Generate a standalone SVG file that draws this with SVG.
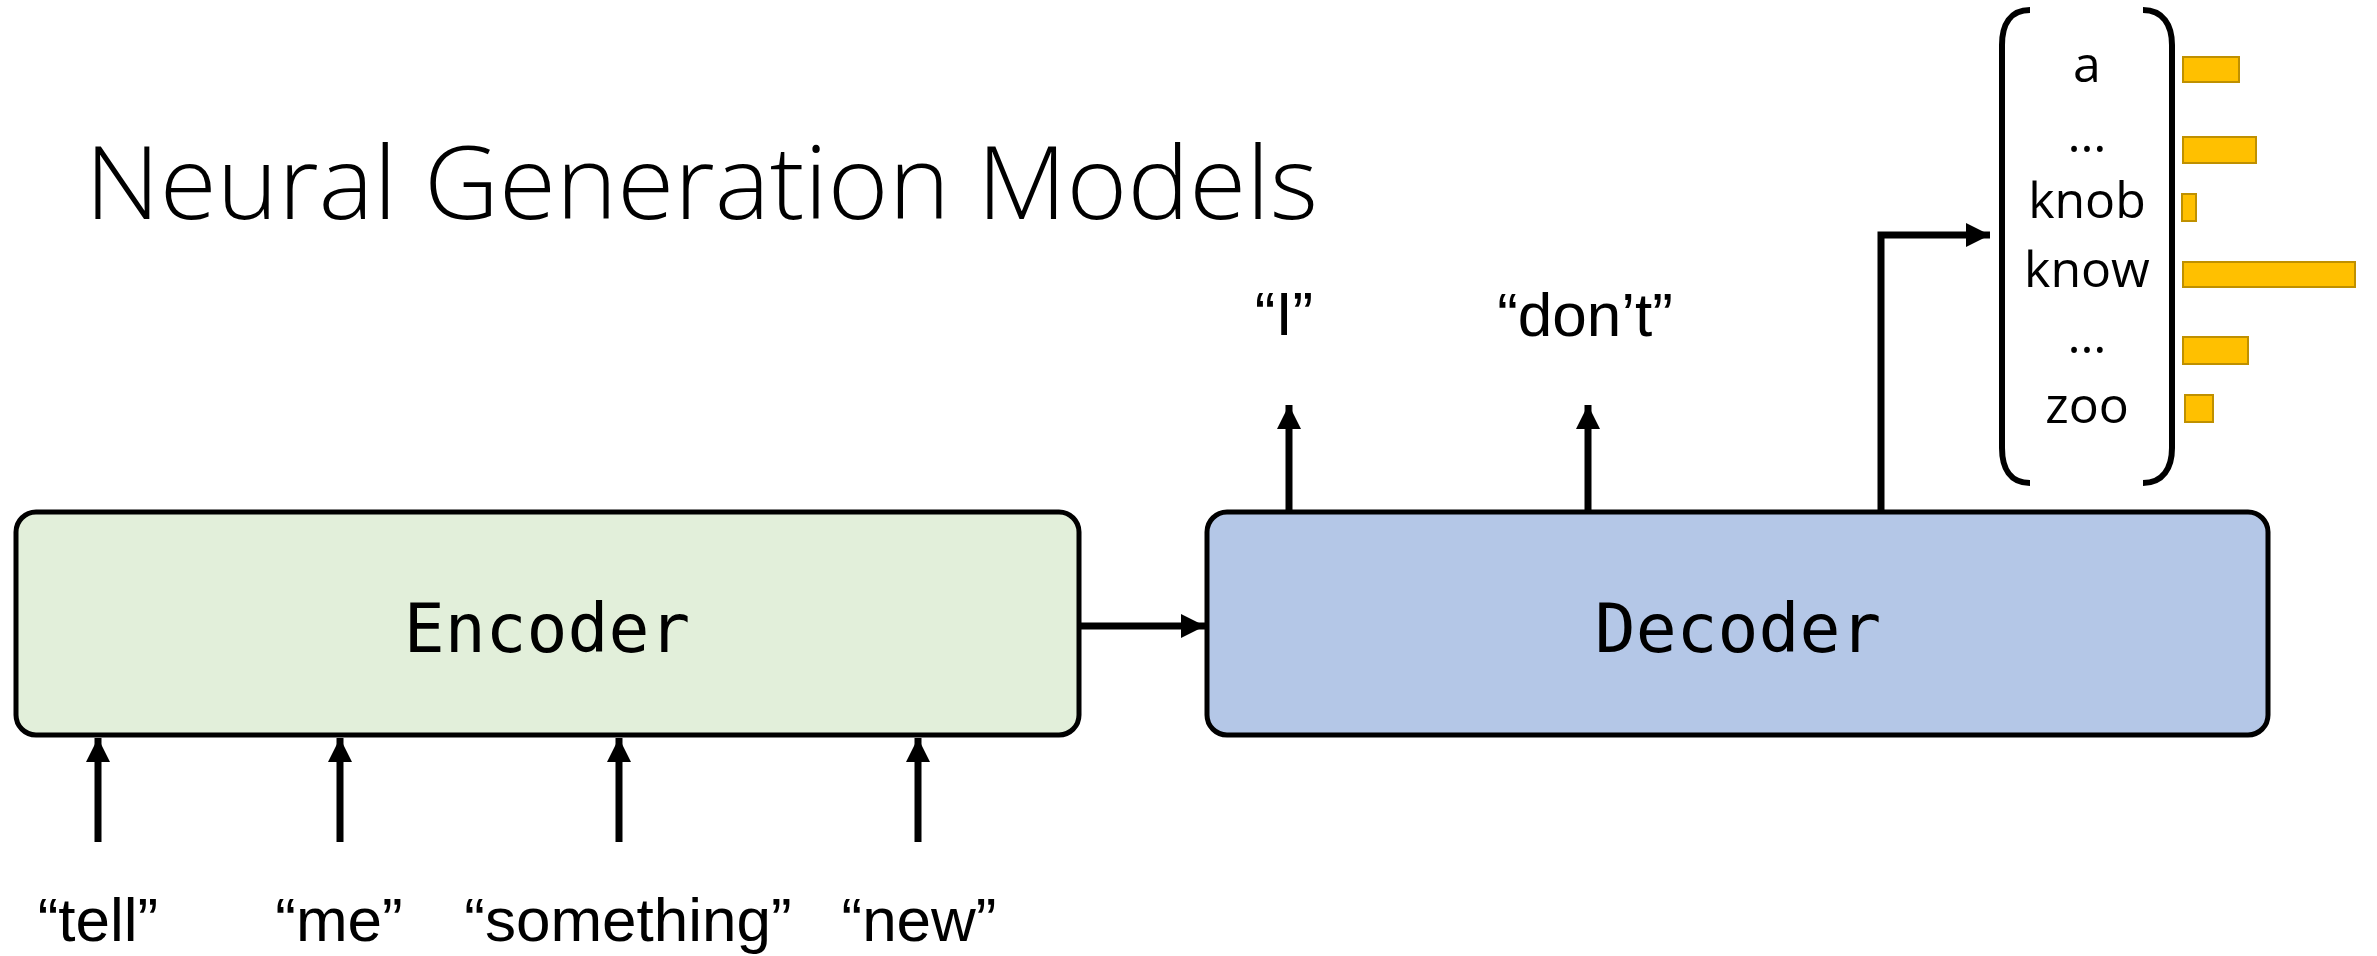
<svg xmlns="http://www.w3.org/2000/svg" width="2377" height="956" viewBox="0 0 2377 956">
<style>
.box{stroke:#000;stroke-width:5}
.mono{font-family:"DejaVu Sans Mono","Liberation Mono",monospace;font-size:68px;fill:#000;text-anchor:middle}
.lbl{font-family:"Liberation Sans",Arial,sans-serif;font-size:62px;fill:#000;text-anchor:middle}
.voc{font-family:"Open Sans","Liberation Sans",sans-serif;font-size:50px;fill:#000;text-anchor:middle}
.title{font-family:"Open Sans","Liberation Sans",sans-serif;font-weight:300;font-size:101px;fill:#000}
.conn{stroke:#000;stroke-width:7;fill:none}
.brk{stroke:#000;stroke-width:6;fill:none;stroke-linecap:butt}
.bar{fill:#FFC000;stroke:#BF9000;stroke-width:2}
</style>
<defs>
<marker id="ah" markerUnits="userSpaceOnUse" markerWidth="24" markerHeight="24" viewBox="0 0 24 24" refX="24" refY="12" orient="auto">
<path d="M0 0 L24 12 L0 24 Z" fill="#000"/>
</marker>
</defs>
<rect width="2377" height="956" fill="#fff"/>
<text class="title" x="85" y="219" textLength="1233" lengthAdjust="spacingAndGlyphs">Neural Generation Models</text>
<g id="encoder">
<rect class="box" x="16" y="512" width="1063" height="223" rx="20" fill="#E2EFDA"/>
<text class="mono" x="547" y="652">Encoder</text>
</g>
<g id="decoder">
<rect class="box" x="1207" y="512" width="1061" height="223" rx="20" fill="#B4C7E7"/>
<text class="mono" x="1738" y="652">Decoder</text>
</g>
<g id="inputs">
<text class="lbl" x="98" y="941">“tell”</text>
<text class="lbl" x="339" y="941">“me”</text>
<text class="lbl" x="628" y="941">“something”</text>
<text class="lbl" x="919" y="941">“new”</text>
</g>
<g id="outputs">
<text class="lbl" x="1284" y="335">“I”</text>
<text class="lbl" x="1585" y="336">“don’t”</text>
</g>
<g id="distribution">
<path class="brk" d="M2030 10 C2010 10 2002 25 2002 45 V448 C2002 468 2010 483 2030 483"/>
<path class="brk" d="M2143 10 C2163 10 2172 25 2172 45 V448 C2172 468 2163 483 2143 483"/>
<text class="voc" x="2087" y="82">a</text>
<text class="voc" x="2087" y="152">…</text>
<text class="voc" x="2087" y="218">knob</text>
<text class="voc" x="2087" y="287">know</text>
<text class="voc" x="2087" y="353">…</text>
<text class="voc" x="2087" y="423">zoo</text>
<rect class="bar" x="2183" y="57" width="56" height="25"/>
<rect class="bar" x="2183" y="137" width="73" height="26"/>
<rect class="bar" x="2182" y="194" width="14" height="27"/>
<rect class="bar" x="2183" y="262" width="172" height="25"/>
<rect class="bar" x="2183" y="337" width="65" height="27"/>
<rect class="bar" x="2185" y="395" width="28" height="27"/>
</g>
<g id="connectors">
<line class="conn" x1="98" y1="842" x2="98" y2="738" marker-end="url(#ah)"/>
<line class="conn" x1="340" y1="842" x2="340" y2="738" marker-end="url(#ah)"/>
<line class="conn" x1="619" y1="842" x2="619" y2="738" marker-end="url(#ah)"/>
<line class="conn" x1="918" y1="842" x2="918" y2="738" marker-end="url(#ah)"/>
<line class="conn" x1="1081" y1="626" x2="1205" y2="626" marker-end="url(#ah)"/>
<line class="conn" x1="1289" y1="510" x2="1289" y2="405" marker-end="url(#ah)"/>
<line class="conn" x1="1588" y1="510" x2="1588" y2="405" marker-end="url(#ah)"/>
<path class="conn" d="M1881 510 V235 H1990" marker-end="url(#ah)"/>
</g>
</svg>
